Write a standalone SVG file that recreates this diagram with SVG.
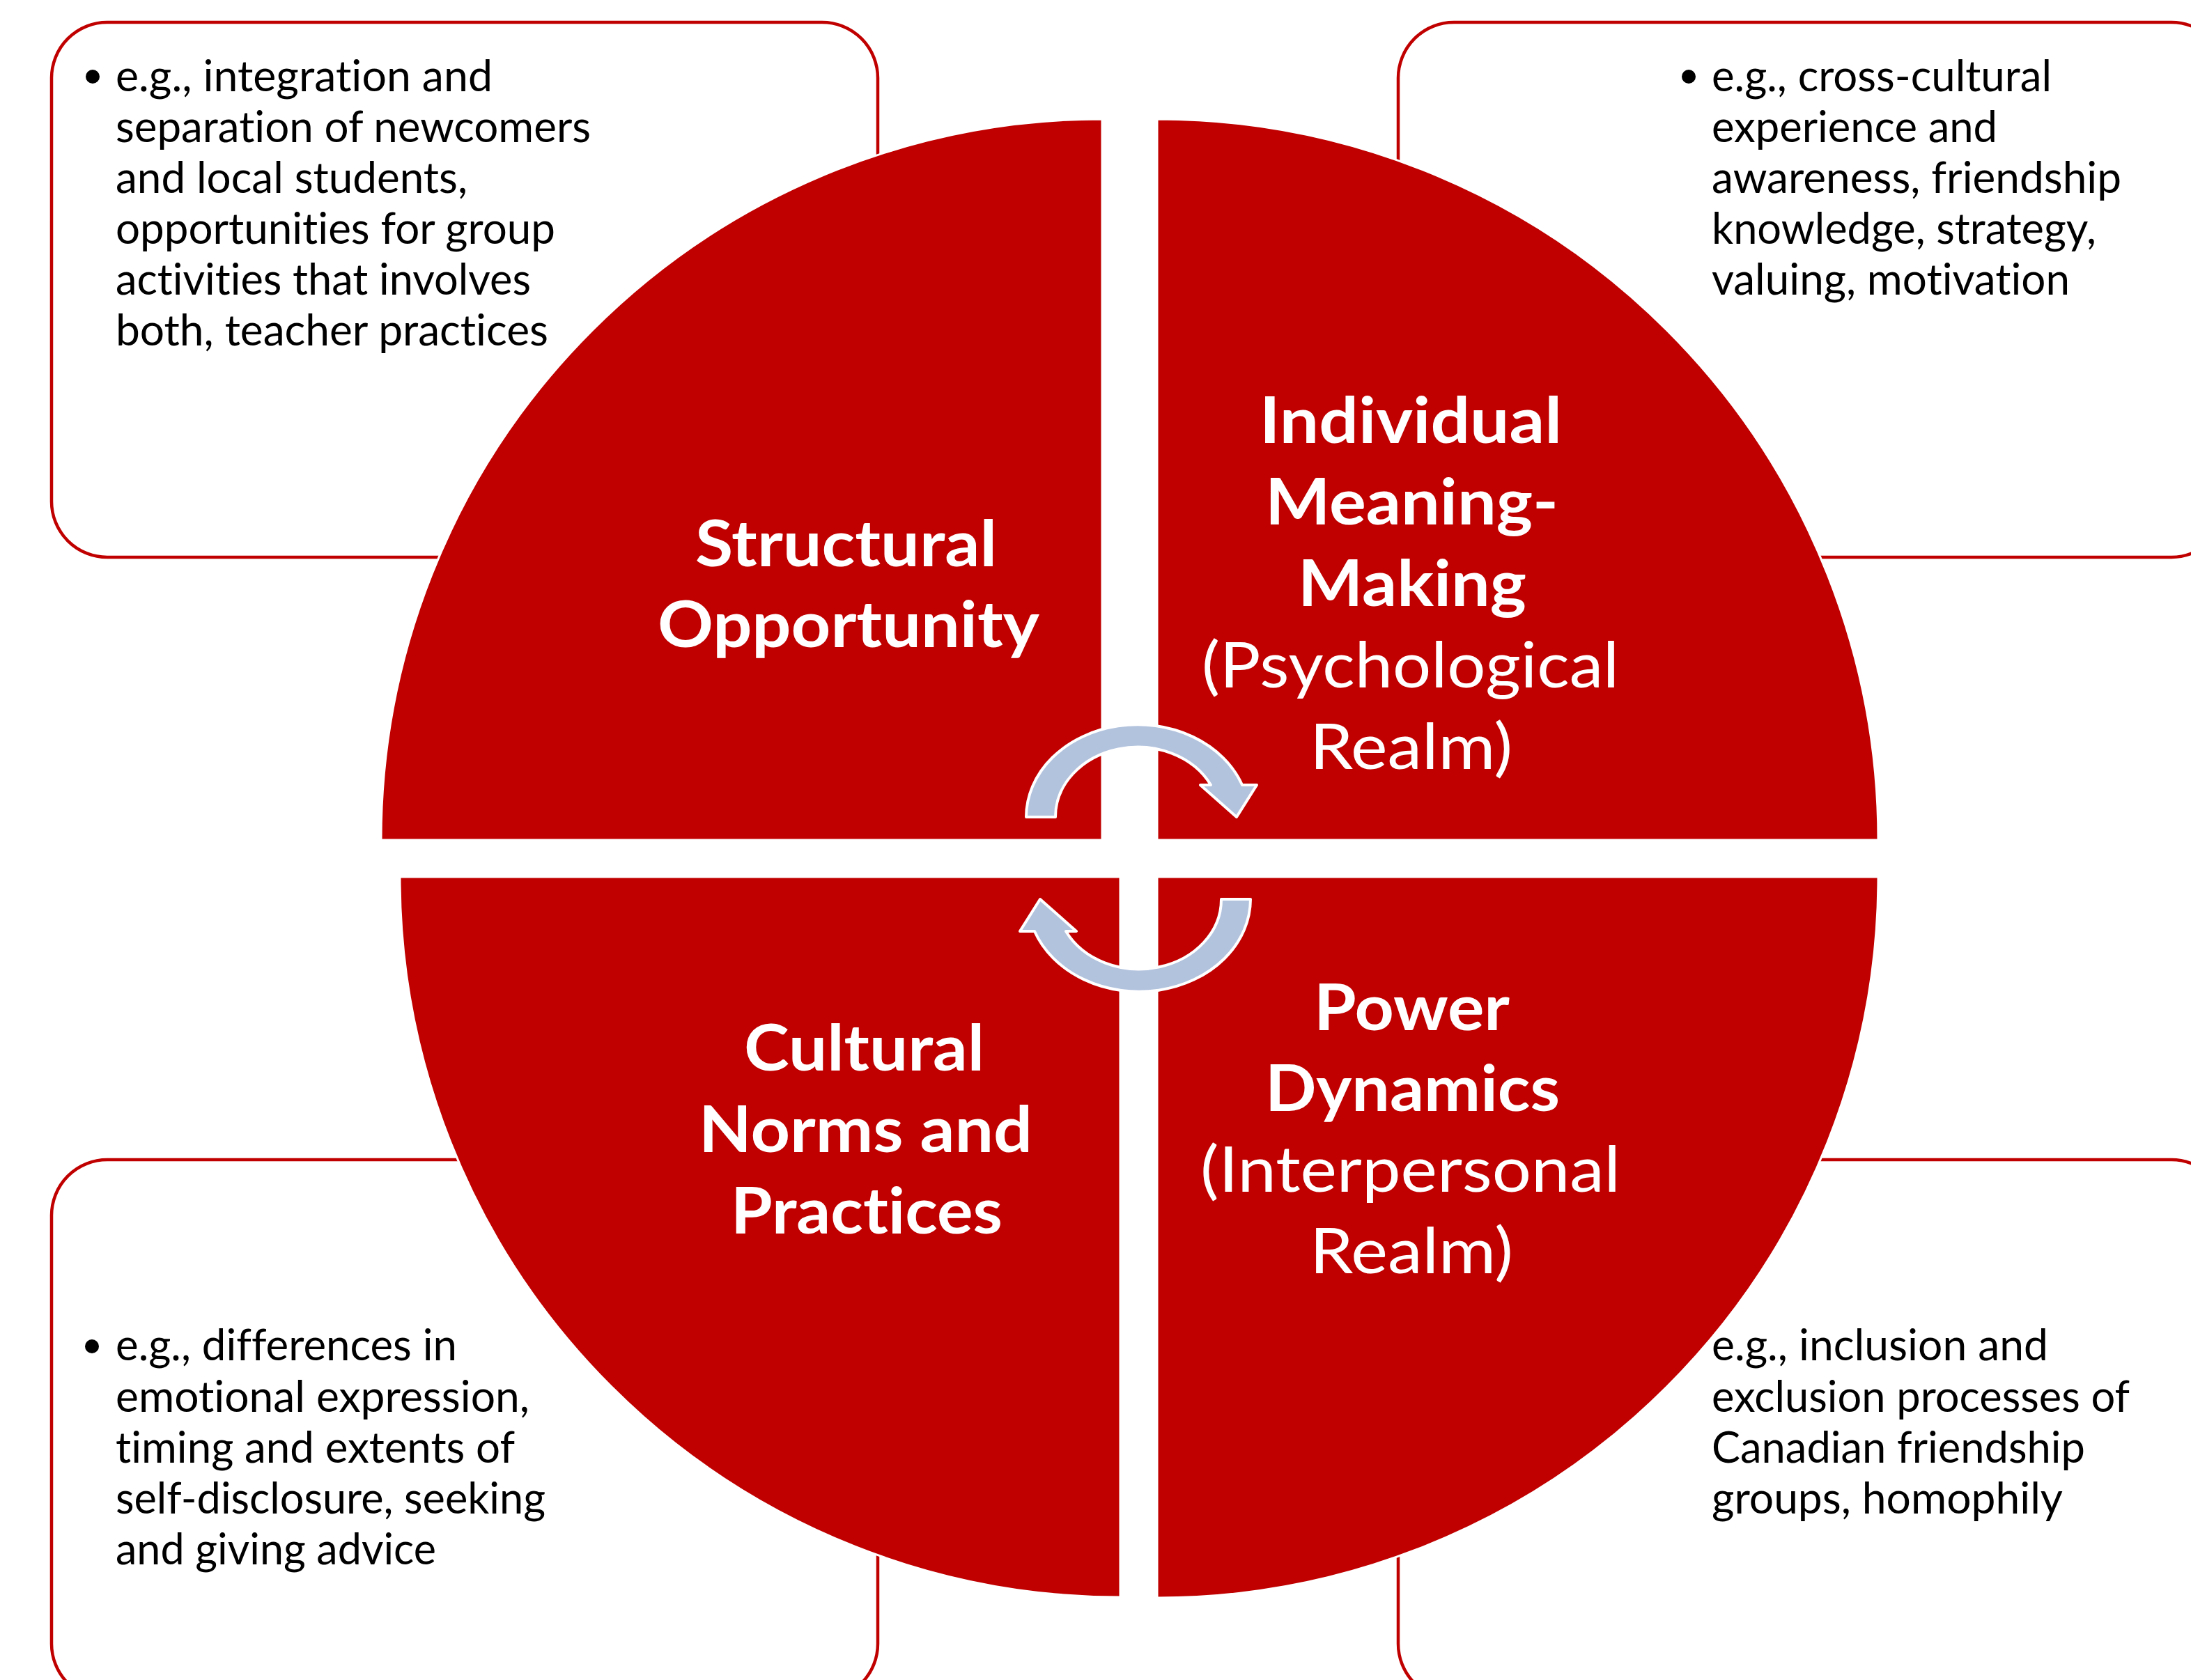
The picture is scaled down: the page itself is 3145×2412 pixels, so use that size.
<svg xmlns="http://www.w3.org/2000/svg" width="3145" height="2412" viewBox="0 0 3145 2412">
  <style>
    .box { fill: #ffffff; stroke: #C00000; stroke-width: 4.5; }
    .quad { fill: #C00000; stroke: #ffffff; stroke-width: 3; }
    .title { font-family: Lato, "Open Sans", sans-serif; font-size: 91px; fill: #ffffff; font-variant-ligatures: none; }
    .b { font-weight: bold; }
    .note { font-family: Lato, "Open Sans", sans-serif; font-size: 61px; fill: #000000; font-variant-ligatures: none; }
    .dot { fill: #000000; }
    .arrow { fill: #B2C3DE; stroke: #ffffff; stroke-width: 4; stroke-linejoin: round; }
  </style>
  <defs>
    <!-- curved block arrow, bending over the top and pointing down-right -->
    <path id="bend-arrow" d="M 1473,1173 A 160 133 0 0 1 1783,1127 L 1804,1127 L 1775,1173 L 1723,1127 L 1738,1127 A 118 100 0 0 0 1515,1173 Z"/>
  </defs>
  <rect width="3145" height="2412" fill="#ffffff"/>

  <!-- example boxes behind the wheel -->
  <g id="box-structural">
    <rect class="box" x="74" y="32" width="1186" height="768" rx="80"/>
    <circle class="dot" cx="133" cy="110" r="10"/>
    <text class="note">
      <tspan x="166" y="131" textLength="541" lengthAdjust="spacingAndGlyphs">e.g., integration and</tspan>
      <tspan x="166" y="204" textLength="682" lengthAdjust="spacingAndGlyphs">separation of newcomers</tspan>
      <tspan x="166" y="277" textLength="505" lengthAdjust="spacingAndGlyphs">and local students,</tspan>
      <tspan x="166" y="350" textLength="631" lengthAdjust="spacingAndGlyphs">opportunities for group</tspan>
      <tspan x="166" y="423" textLength="596" lengthAdjust="spacingAndGlyphs">activities that involves</tspan>
      <tspan x="166" y="496" textLength="621" lengthAdjust="spacingAndGlyphs">both, teacher practices</tspan>
    </text>
  </g>
  <g id="box-individual">
    <rect class="box" x="2007" y="32" width="1190" height="768" rx="80"/>
    <circle class="dot" cx="2424" cy="110" r="10"/>
    <text class="note">
      <tspan x="2457" y="131" textLength="488" lengthAdjust="spacingAndGlyphs">e.g., cross-cultural</tspan>
      <tspan x="2457" y="204" textLength="410" lengthAdjust="spacingAndGlyphs">experience and</tspan>
      <tspan x="2457" y="277" textLength="588" lengthAdjust="spacingAndGlyphs">awareness, friendship</tspan>
      <tspan x="2457" y="350" textLength="552" lengthAdjust="spacingAndGlyphs">knowledge, strategy,</tspan>
      <tspan x="2457" y="423" textLength="514" lengthAdjust="spacingAndGlyphs">valuing, motivation</tspan>
    </text>
  </g>
  <g id="box-cultural">
    <rect class="box" x="74" y="1665" width="1186" height="775" rx="80"/>
    <circle class="dot" cx="132" cy="1933" r="10"/>
    <text class="note">
      <tspan x="166" y="1953" textLength="490" lengthAdjust="spacingAndGlyphs">e.g., differences in</tspan>
      <tspan x="166" y="2027" textLength="594" lengthAdjust="spacingAndGlyphs">emotional expression,</tspan>
      <tspan x="166" y="2100" textLength="572" lengthAdjust="spacingAndGlyphs">timing and extents of</tspan>
      <tspan x="166" y="2173" textLength="617" lengthAdjust="spacingAndGlyphs">self-disclosure, seeking</tspan>
      <tspan x="166" y="2246" textLength="460" lengthAdjust="spacingAndGlyphs">and giving advice</tspan>
    </text>
  </g>
  <g id="box-power">
    <rect class="box" x="2007" y="1665" width="1190" height="775" rx="80"/>
    <text class="note">
      <tspan x="2457" y="1953" textLength="483" lengthAdjust="spacingAndGlyphs">e.g., inclusion and</tspan>
      <tspan x="2457" y="2027" textLength="599" lengthAdjust="spacingAndGlyphs">exclusion processes of</tspan>
      <tspan x="2457" y="2100" textLength="536" lengthAdjust="spacingAndGlyphs">Canadian friendship</tspan>
      <tspan x="2457" y="2173" textLength="504" lengthAdjust="spacingAndGlyphs">groups, homophily</tspan>
    </text>
  </g>

  <!-- the four quarters of the wheel -->
  <g id="quad-structural">
    <path class="quad" d="M 1582,1206 L 547,1206 A 1035 1035 0 0 1 1582,171 Z"/>
    <text class="title b">
      <tspan x="998" y="813" textLength="433" lengthAdjust="spacingAndGlyphs">Structural</tspan>
      <tspan x="944" y="929" textLength="548" lengthAdjust="spacingAndGlyphs">Opportunity</tspan>
    </text>
  </g>
  <g id="quad-individual">
    <path class="quad" d="M 1661,1206 L 1661,171 A 1035 1035 0 0 1 2696,1206 Z"/>
    <text class="title">
      <tspan class="b" x="1808" y="636" textLength="434" lengthAdjust="spacingAndGlyphs">Individual</tspan>
      <tspan class="b" x="1816" y="753" textLength="421" lengthAdjust="spacingAndGlyphs">Meaning-</tspan>
      <tspan class="b" x="1863" y="870" textLength="328" lengthAdjust="spacingAndGlyphs">Making</tspan>
      <tspan x="1725" y="987" textLength="599" lengthAdjust="spacingAndGlyphs">(Psychological</tspan>
      <tspan x="1880" y="1104" textLength="291" lengthAdjust="spacingAndGlyphs">Realm)</tspan>
    </text>
  </g>
  <g id="quad-cultural">
    <path class="quad" d="M 1608,1259 L 1608,2293 A 1034 1034 0 0 1 574,1259 Z"/>
    <text class="title b">
      <tspan x="1068" y="1537" textLength="345" lengthAdjust="spacingAndGlyphs">Cultural</tspan>
      <tspan x="1003" y="1654" textLength="479" lengthAdjust="spacingAndGlyphs">Norms and</tspan>
      <tspan x="1049" y="1771" textLength="390" lengthAdjust="spacingAndGlyphs">Practices</tspan>
    </text>
  </g>
  <g id="quad-power">
    <path class="quad" d="M 1661,1259 L 2696,1259 A 1035 1035 0 0 1 1661,2294 Z"/>
    <text class="title">
      <tspan class="b" x="1886" y="1479" textLength="281" lengthAdjust="spacingAndGlyphs">Power</tspan>
      <tspan class="b" x="1816" y="1595" textLength="423" lengthAdjust="spacingAndGlyphs">Dynamics</tspan>
      <tspan x="1723" y="1711" textLength="603" lengthAdjust="spacingAndGlyphs">(Interpersonal</tspan>
      <tspan x="1880" y="1828" textLength="292" lengthAdjust="spacingAndGlyphs">Realm)</tspan>
    </text>
  </g>

  <!-- cycle arrows at the hub -->
  <g id="cycle-arrows">
    <use href="#bend-arrow" class="arrow"/>
    <use href="#bend-arrow" class="arrow" transform="rotate(180 1634 1232)"/>
  </g>
</svg>
